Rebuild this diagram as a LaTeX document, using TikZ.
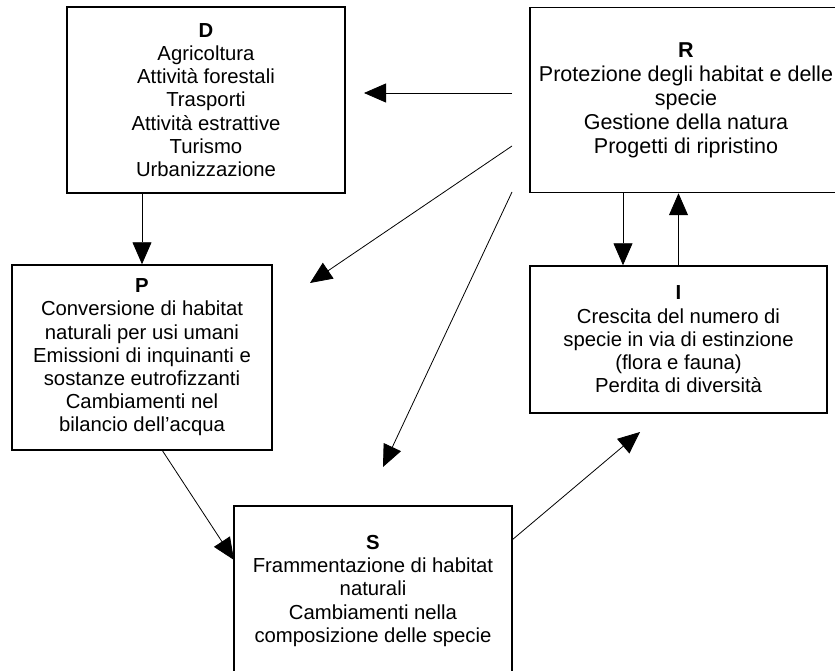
\documentclass[tikz,border=0pt]{standalone}
\usepackage{fontspec}
\setmainfont{Liberation Sans}
\usetikzlibrary{arrows.meta}

\begin{document}
\begin{tikzpicture}[x=1pt,y=-1pt,
    box/.style={draw,line width=1.5pt,align=center,inner sep=0pt,
      font=\fontsize{20.3}{23.2}\selectfont},
    arr/.style={-{Triangle[length=22pt,width=19pt]},line width=0.8pt}]
        \def\W{835}
        \def\H{671}
        \useasboundingbox (0,0) rectangle (\W,\H);

        %------------------
        % riquadri
        %------------------

        \node[box,minimum width=278pt,minimum height=186pt] (D) at (206,100)
          {\textbf{D}\\Agricoltura\\Attività forestali\\Trasporti\\Attività estrattive\\Turismo\\Urbanizzazione};
        \node[box,minimum width=312pt,minimum height=185pt,
          font=\fontsize{21.5}{24}\selectfont] (R) at (686,100)
          {\textbf{R}\\Protezione degli habitat e delle\\specie\\Gestione della natura\\Progetti di ripristino};
        \node[box,minimum width=260pt,minimum height=185pt] (P) at (142,357.5)
          {\textbf{P}\\Conversione di habitat\\naturali per usi umani\\Emissioni di inquinanti e\\sostanze eutrofizzanti\\Cambiamenti nel\\bilancio dell’acqua};
        \node[box,minimum width=297pt,minimum height=147pt] (I) at (678.5,339.5)
          {\textbf{I}\\Crescita del numero di\\specie in via di estinzione\\(flora e fauna)\\Perdita di diversità};
        \node[box,minimum width=278pt,minimum height=170pt] (S) at (373,591)
          {\textbf{S}\\Frammentazione di habitat\\naturali\\Cambiamenti nella\\composizione delle specie};

        %------------------
        % punti liberi
        %------------------

        \coordinate (rd) at (512,93);   \coordinate (td) at (364,93);
        \coordinate (rp) at (512,146);  \coordinate (tp) at (310,283);
        \coordinate (rs) at (512,192);  \coordinate (ts) at (383,467);
        \coordinate (si) at (512,540);  \coordinate (ti) at (640,432);
        \coordinate (ps) at (162,450);  \coordinate (sp) at (234,560);
        \coordinate (ri) at (623,0);

        %------------------
        % frecce
        %------------------

        \draw[arr] (rd) -- (td);
        \draw[arr] (D.south -| P) -- (P.north);
        \draw[arr] (rp) -- (tp);
        \draw[arr] (rs) -- (ts);
        \draw[arr] (R.south -| ri) -- (I.north -| ri);
        \draw[arr] (I.north) -- (I.north |- R.south);
        \draw[arr] (ps) -- (sp);
        \draw[arr] (si) -- (ti);
      \end{tikzpicture}
\end{document}
